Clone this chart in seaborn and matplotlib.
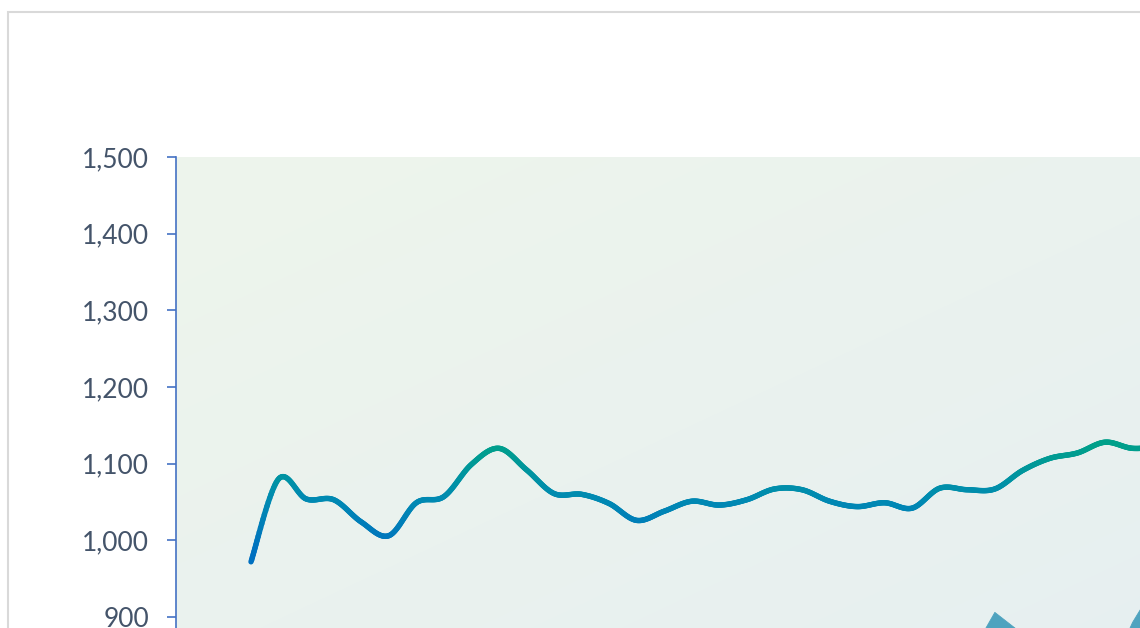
import numpy as np
import pandas as pd
import matplotlib
matplotlib.use("Agg")
import matplotlib.pyplot as plt
import seaborn as sns
from matplotlib.collections import LineCollection
from matplotlib.colors import LinearSegmentedColormap, Normalize, to_rgb
from matplotlib.patches import Rectangle

sns.set_theme(style="white")
plt.rcParams["font.family"] = ["Lato", "DejaVu Sans"]

# main series (smoothed line), one value per period
line_values = [972, 1080, 1054, 1053, 1024, 1006, 1049, 1057, 1099, 1120,
               1092, 1061, 1060, 1048, 1026, 1038, 1051, 1046, 1053, 1067,
               1066, 1051, 1044, 1049, 1042, 1068, 1066, 1067, 1091, 1107,
               1114, 1128, 1120, 1123, 1128]
# second series (area), mostly below the visible window
area_values = [820, 835, 810, 845, 830, 800, 825, 850, 840, 815,
               830, 845, 820, 805, 835, 850, 830, 815, 840, 855,
               830, 820, 845, 835, 815, 830, 843, 906, 878, 860,
               850, 814, 893, 952, 930]
y_ticks = [900, 1000, 1100, 1200, 1300, 1400, 1500]

periods = np.arange(len(line_values))
df = pd.DataFrame({"period": periods, "line": line_values, "area": area_values})

W, H = 1140, 628
fig = plt.figure(figsize=(W / 100, H / 100), dpi=100)

# axes extends past the right and bottom edges (chart is cropped)
px_left, px_top, px_right = 176, 157, 1320
y_top, y_bottom = 1500, 800
px_per_unit = (617 - 157) / 600
px_bottom = px_top + (y_top - y_bottom) * px_per_unit
ax = fig.add_axes([px_left / W, 1 - px_bottom / H,
                   (px_right - px_left) / W, (px_bottom - px_top) / H])

step = 27.55
x0 = (px_left - 251) / step
x1 = (px_right - 251) / step
ax.set_xlim(x0, x1)
ax.set_ylim(y_bottom, y_top)

# plot-area background gradient (top-left green tint to bottom-right blue tint)
c0 = np.array(to_rgb("#EEF5EC"))
c1 = np.array(to_rgb("#E6EFF1"))
u, v = np.meshgrid(np.linspace(0, 1, 300), np.linspace(1, 0, 300))
t = np.clip((u + (1 - v)) / 1.9, 0, 1)
bg = c0[None, None, :] * (1 - t[..., None]) + c1[None, None, :] * t[..., None]
ax.imshow(bg, extent=[0, 1, 0, 1], transform=ax.transAxes, aspect="auto",
          zorder=0, interpolation="bilinear")

# area series
ax.fill_between(df["period"], df["area"], 0, color="#4FA3BF", lw=0, zorder=2)
sns.lineplot(data=df, x="period", y="area", color="#4FA3BF", lw=0.6, ax=ax, zorder=2)


# smoothed line (Catmull-Rom through the points), coloured by value
def smooth(xs, ys, n=24):
    p = np.column_stack([xs, ys]).astype(float)
    p = np.vstack([p[0], p, p[-1]])
    out = []
    for i in range(1, len(p) - 2):
        a, b, c, d = p[i - 1], p[i], p[i + 1], p[i + 2]
        s = np.linspace(0, 1, n, endpoint=False)[:, None]
        out.append(0.5 * ((2 * b) + (-a + c) * s + (2 * a - 5 * b + 4 * c - d) * s ** 2
                          + (-a + 3 * b - 3 * c + d) * s ** 3))
    out.append(p[-2][None, :])
    return np.vstack(out)


pts = smooth(df["period"], df["line"])
segs = np.stack([pts[:-1], pts[1:]], axis=1)
cmap = LinearSegmentedColormap.from_list("blue_teal", ["#0070C0", "#008AB2", "#00A08A"])
lc = LineCollection(segs, cmap=cmap, norm=Normalize(985, 1125), linewidth=3.9,
                    capstyle="round", joinstyle="round", zorder=3)
lc.set_array((pts[:-1, 1] + pts[1:, 1]) / 2)
ax.add_collection(lc)

# axis styling
for side in ["top", "right", "bottom"]:
    ax.spines[side].set_visible(False)
ax.spines["left"].set_color("#4472C4")
ax.spines["left"].set_linewidth(1.2)
ax.set_yticks(y_ticks)
ax.set_yticklabels([f"{t:,}" for t in y_ticks])
ax.set_xticks([])
ax.tick_params(axis="y", direction="out", length=6.5, width=1.2, color="#4472C4",
               labelcolor="#44546A", labelsize=19, pad=13, left=True)
ax.set_xlabel("")
ax.set_ylabel("")
ax.grid(False)

# light grey chart border (cropped at right and bottom)
fig.patches.append(Rectangle((8 / W, -0.5), 2, 1 - 12 / H + 0.5, transform=fig.transFigure,
                             fill=False, edgecolor="#D9D9D9", linewidth=1.5, zorder=0))

fig.savefig("out.png", dpi=100, facecolor="white")
